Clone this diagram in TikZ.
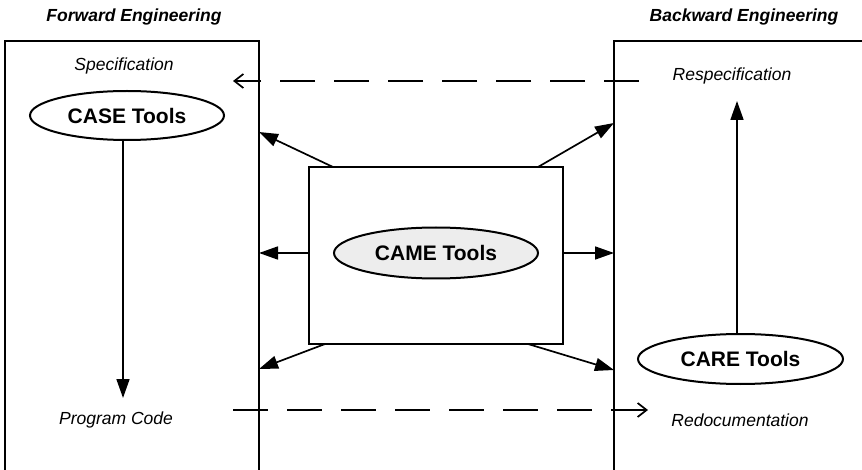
\documentclass[tikz,border=0pt]{standalone}
\usepackage{fontspec}
\setmainfont{Liberation Sans}
\usetikzlibrary{arrows.meta,shapes.geometric}

\tikzset{
  panel/.style={draw, line width=2pt, outer sep=0pt, inner sep=0pt},
  tool/.style={draw, ellipse, line width=2pt, inner sep=0pt, font=\fontsize{21}{24}\selectfont\bfseries},
  heading/.style={font=\fontsize{17.5}{20}\selectfont\bfseries\itshape},
  stage/.style={font=\fontsize{17.5}{20}\selectfont\itshape},
  flow/.style={-{Triangle[length=19pt,width=13pt]}, line width=1.7pt},
  backflow/.style={-{Straight Barb[length=9pt,width=14pt]}, line width=1.7pt, dash pattern=on 35pt off 19pt},
}

\begin{document}
\begin{tikzpicture}[x=1pt, y=-1pt]
\useasboundingbox (0,0) rectangle (862,470);
\clip (0,0) rectangle (862,470);

% --- Panels ---
\node[panel, anchor=north west, minimum width=254pt, minimum height=460pt] (fwd) at (5,41) {};
\node[panel, anchor=north west, minimum width=270pt, minimum height=460pt] (bwd) at (614,41) {};
\node[heading] (fwdtitle) at (134,17) {Forward Engineering};
\node[heading] (bwdtitle) at (744,17) {Backward Engineering};

% --- Forward side ---
\node[stage] (spec) at (124,66) {Specification};
\node[tool, minimum width=194pt, minimum height=49pt] (case) at (127,115.5) {CASE Tools};
\node[stage] (prog) at (116,420) {Program Code};
\draw[flow] ([xshift=-4pt]case.south) -- ++(0,257);

% --- Backward side ---
\node[stage] (respec) at (732,76) {Respecification};
\node[tool, minimum width=205pt, minimum height=50pt] (care) at (740.5,359) {CARE Tools};
\node[stage] (redoc) at (740,420) {Redocumentation};
\draw[flow] ([xshift=-3.5pt]care.north) -- ++(0,-232);

% --- CAME in the middle ---
\node[panel, anchor=north west, minimum width=254pt, minimum height=177pt] (camebox) at (309,167) {};
\node[tool, fill=black!7, minimum width=204pt, minimum height=51pt] (came) at (436,253) {CAME Tools};
\draw[flow] ([xshift=24pt]camebox.north west) -- ([yshift=-91pt]fwd.north east);
\draw[flow] ([xshift=-25pt]camebox.north east) -- ([yshift=-82pt]bwd.north west);
\draw[flow] (camebox.west |- came) -- (fwd.east |- came);
\draw[flow] (camebox.east |- came) -- (bwd.west |- came);
\draw[flow] ([xshift=16pt]camebox.south west) -- ([yshift=-328pt]fwd.north east);
\draw[flow] ([xshift=-35pt]camebox.south east) -- ([yshift=-329pt]bwd.north west);

% --- Dashed returns ---
\draw[backflow] ([shift={(25pt,-40pt)}]bwd.north west) -- ([shift={(-26pt,-40pt)}]fwd.north east);
\draw[backflow] ([shift={(-26pt,-369pt)}]fwd.north east) -- ([shift={(34pt,-369pt)}]bwd.north west);
\end{tikzpicture}
\end{document}
